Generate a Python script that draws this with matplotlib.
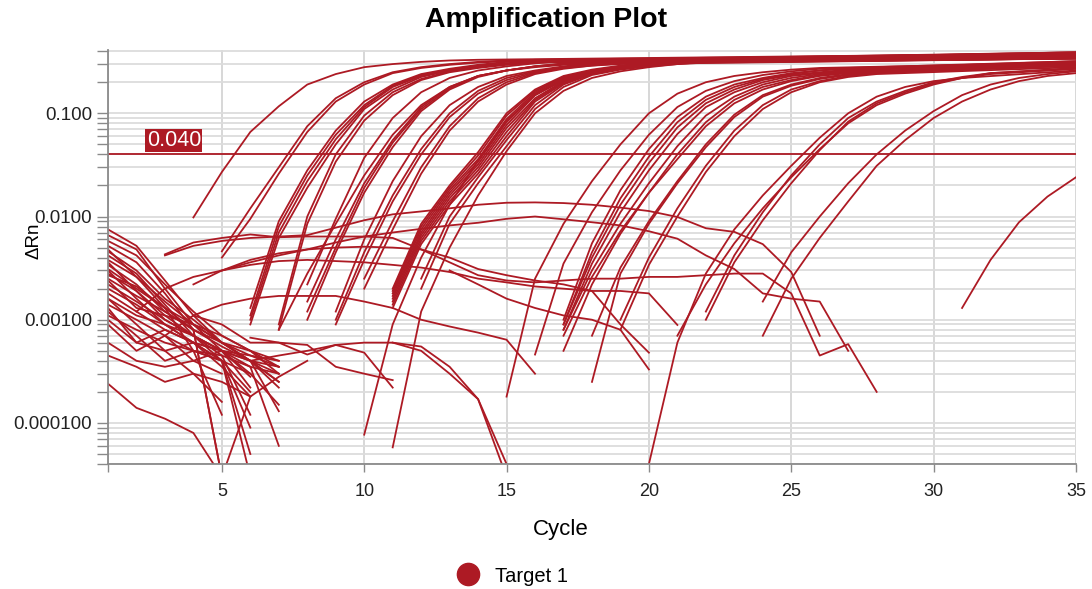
import matplotlib.pyplot as plt
from matplotlib.lines import Line2D
from matplotlib.ticker import LogLocator, NullFormatter, FixedLocator

plt.rcParams["font.family"] = ["Liberation Sans", "DejaVu Sans"]

RED = "#ad1a24"
THRESHOLD = 0.040

x_ticks = [1, 5, 10, 15, 20, 25, 30, 35]
x_labels = ["", "5", "10", "15", "20", "25", "30", "35"]
y_ticks = [1e-4, 1e-3, 1e-2, 1e-1]
y_labels = ["0.000100", "0.00100", "0.0100", "0.100"]

# amplified wells: (first cycle, dRn per cycle, dRn at cycle 35 or None)
amp_curves = [
    (4, [0.0098, 0.027, 0.066, 0.117, 0.19, 0.24, 0.28, 0.30, 0.315, 0.325, 0.33], 0.38),
    (5, [0.0046, 0.012, 0.030, 0.075, 0.14, 0.20, 0.25, 0.28, 0.30, 0.315, 0.325], 0.37),
    (5, [0.0040, 0.0095, 0.026, 0.066, 0.13, 0.19, 0.245, 0.275, 0.295, 0.31, 0.32], 0.35),
    (6, [0.0013, 0.0090, 0.028, 0.068, 0.13, 0.19, 0.24, 0.27, 0.295, 0.315, 0.33], 0.38),
    (6, [0.0011, 0.0080, 0.025, 0.062, 0.12, 0.185, 0.235, 0.265, 0.29, 0.305, 0.315], 0.36),
    (6, [0.0010, 0.0070, 0.022, 0.056, 0.115, 0.18, 0.23, 0.26, 0.285, 0.305, 0.32], 0.39),
    (6, [0.0009, 0.0062, 0.019, 0.050, 0.11, 0.17, 0.225, 0.26, 0.28, 0.30, 0.31], 0.35),
    (7, [0.0009, 0.010, 0.040, 0.095, 0.16, 0.215, 0.255, 0.28, 0.30, 0.315, 0.325], 0.37),
    (7, [0.0008, 0.0085, 0.034, 0.085, 0.15, 0.21, 0.25, 0.275, 0.295, 0.31, 0.32], 0.36),
    (7, [0.0008, 0.0028, 0.0085, 0.025, 0.062, 0.12, 0.18, 0.23, 0.26, 0.285, 0.30, 0.315], 0.37),
    (8, [0.0022, 0.0095, 0.037, 0.09, 0.16, 0.22, 0.26, 0.285, 0.305, 0.32, 0.33], 0.38),
    (8, [0.0015, 0.006, 0.021, 0.055, 0.115, 0.18, 0.23, 0.26, 0.285, 0.30, 0.31], 0.35),
    (8, [0.0012, 0.005, 0.019, 0.052, 0.11, 0.175, 0.23, 0.26, 0.285, 0.305, 0.32], 0.38),
    (8, [0.0010, 0.0045, 0.017, 0.047, 0.105, 0.17, 0.225, 0.26, 0.28, 0.295, 0.305], 0.34),
    (9, [0.0012, 0.006, 0.022, 0.060, 0.12, 0.18, 0.23, 0.26, 0.285, 0.305, 0.32], 0.37),
    (9, [0.0010, 0.0045, 0.016, 0.045, 0.10, 0.165, 0.22, 0.255, 0.28, 0.30, 0.31], 0.36),
    (9, [0.0009, 0.0038, 0.014, 0.040, 0.092, 0.155, 0.21, 0.25, 0.275, 0.29, 0.30], 0.34),
    (10, [0.0025, 0.009, 0.030, 0.075, 0.14, 0.20, 0.245, 0.275, 0.30, 0.315, 0.325], 0.37),
    (10, [0.0020, 0.0075, 0.026, 0.068, 0.13, 0.19, 0.24, 0.27, 0.29, 0.305, 0.315], 0.35),
    (10, [0.000077, 0.0009, 0.004, 0.013, 0.035, 0.085, 0.15, 0.21, 0.25, 0.275, 0.295, 0.31], 0.34),
    (11, [0.000058, 0.0012, 0.005, 0.016, 0.043, 0.10, 0.165, 0.22, 0.255, 0.28, 0.30, 0.315], 0.35),
    (11, [0.0020, 0.0085, 0.020, 0.042, 0.10, 0.17, 0.23, 0.265, 0.29, 0.31, 0.325, 0.335], 0.39),
    (11, [0.0019, 0.0080, 0.019, 0.039, 0.095, 0.165, 0.225, 0.26, 0.285, 0.30, 0.315, 0.325], 0.36),
    (11, [0.0018, 0.0075, 0.018, 0.036, 0.088, 0.16, 0.22, 0.26, 0.285, 0.305, 0.32, 0.33], 0.39),
    (11, [0.0017, 0.0070, 0.017, 0.034, 0.082, 0.155, 0.215, 0.255, 0.28, 0.30, 0.31, 0.32], 0.35),
    (11, [0.0016, 0.0066, 0.016, 0.032, 0.077, 0.15, 0.21, 0.25, 0.28, 0.30, 0.315, 0.325], 0.37),
    (11, [0.0015, 0.0062, 0.015, 0.030, 0.072, 0.14, 0.205, 0.25, 0.275, 0.295, 0.305, 0.315], 0.34),
    (11, [0.0014, 0.0058, 0.014, 0.028, 0.066, 0.135, 0.20, 0.245, 0.275, 0.295, 0.31, 0.32], 0.36),
    (11, [0.0013, 0.0054, 0.013, 0.026, 0.060, 0.13, 0.195, 0.24, 0.27, 0.29, 0.305, 0.315], 0.35),
    (12, [0.0025, 0.010, 0.024, 0.055, 0.12, 0.19, 0.24, 0.27, 0.295, 0.31, 0.32], 0.37),
    (12, [0.0020, 0.0085, 0.021, 0.048, 0.11, 0.18, 0.235, 0.265, 0.285, 0.30, 0.31], 0.34),
    (15, [0.00018, 0.0025, 0.0085, 0.022, 0.050, 0.10, 0.155, 0.20, 0.23, 0.25, 0.265, 0.275], 0.31),
    (16, [0.00046, 0.0035, 0.011, 0.028, 0.062, 0.115, 0.165, 0.205, 0.235, 0.255, 0.27], 0.30),
    (17, [0.0010, 0.0055, 0.018, 0.045, 0.092, 0.145, 0.19, 0.22, 0.245, 0.26, 0.275], 0.32),
    (17, [0.0009, 0.0045, 0.015, 0.038, 0.082, 0.135, 0.18, 0.215, 0.24, 0.26, 0.27], 0.32),
    (17, [0.0009, 0.0040, 0.013, 0.033, 0.073, 0.125, 0.17, 0.21, 0.235, 0.25, 0.265], 0.30),
    (17, [0.0008, 0.0035, 0.011, 0.028, 0.063, 0.115, 0.16, 0.20, 0.23, 0.245, 0.26], 0.31),
    (17, [0.0008, 0.0030, 0.0085, 0.021, 0.048, 0.095, 0.145, 0.19, 0.22, 0.24, 0.255], 0.29),
    (17, [0.0007, 0.0026, 0.0072, 0.017, 0.040, 0.082, 0.135, 0.18, 0.21, 0.235, 0.25], 0.30),
    (18, [0.00025, 0.0028, 0.0085, 0.021, 0.047, 0.092, 0.145, 0.185, 0.215, 0.235, 0.25], 0.29),
    (18, [0.0007, 0.0032, 0.009, 0.022, 0.050, 0.097, 0.15, 0.19, 0.22, 0.24, 0.255], 0.31),
    (17, [0.0005, 0.0022, 0.0068, 0.017, 0.036, 0.075, 0.125, 0.17, 0.205, 0.23, 0.245], 0.29),
    (19, [0.0010, 0.0040, 0.012, 0.031, 0.068, 0.12, 0.17, 0.205, 0.23, 0.245], 0.29),
    (19, [0.0008, 0.0034, 0.010, 0.027, 0.060, 0.11, 0.16, 0.20, 0.225, 0.24], 0.28),
    (20, [0.00004, 0.0006, 0.0028, 0.0075, 0.016, 0.031, 0.058, 0.10, 0.145, 0.18, 0.205, 0.22], 0.26),
    (21, [0.0007, 0.0022, 0.0055, 0.012, 0.024, 0.045, 0.08, 0.12, 0.155, 0.19, 0.22, 0.245], 0.27),
    (22, [0.0012, 0.0042, 0.011, 0.025, 0.050, 0.09, 0.13, 0.165, 0.20, 0.225, 0.245], 0.275),
    (22, [0.0010, 0.0036, 0.0092, 0.021, 0.044, 0.083, 0.125, 0.16, 0.195, 0.22, 0.24], 0.27),
    (24, [0.0015, 0.0045, 0.010, 0.021, 0.040, 0.068, 0.105, 0.15, 0.19, 0.22, 0.24, 0.255], None),
    (24, [0.0007, 0.0025, 0.0062, 0.014, 0.031, 0.055, 0.09, 0.13, 0.17, 0.205, 0.23, 0.245], None),
    (31, [0.0013, 0.0038, 0.0088, 0.0156, 0.024], None),
]

# early baseline noise, every well from cycle 1
early_noise = [
    [0.0075, 0.0052, 0.0024, 0.0011, 0.0006, 0.0004, 0.00035],
    [0.0066, 0.0048, 0.0020, 0.0009, 0.0005, 0.00028],
    [0.0058, 0.0042, 0.0022, 0.0012, 0.0007, 0.0005, 0.0003],
    [0.0052, 0.0036, 0.0018, 0.0008, 0.00003],
    [0.0046, 0.0030, 0.0016, 0.0010, 0.0006, 0.0004, 0.00022],
    [0.0042, 0.0028, 0.0014, 0.0007, 0.00045, 0.00012],
    [0.0038, 0.0026, 0.0015, 0.0009, 0.0007, 0.0005, 0.0004],
    [0.0034, 0.0022, 0.0012, 0.0008, 0.00003],
    [0.0031, 0.0020, 0.0013, 0.0009, 0.0006, 0.00045, 0.00035],
    [0.0028, 0.0019, 0.0011, 0.0007, 0.0005, 0.00022],
    [0.0025, 0.0017, 0.0012, 0.0008, 0.00055, 0.0004, 0.0003],
    [0.0022, 0.0015, 0.0010, 0.0007, 0.0004, 0.00003],
    [0.0020, 0.0014, 0.0009, 0.0006, 0.0005, 0.00045, 0.0004],
    [0.0018, 0.0012, 0.0008, 0.0006, 0.00035, 0.00018],
    [0.0016, 0.0011, 0.0009, 0.0007, 0.0005, 0.0003, 0.00015],
    [0.0014, 0.0010, 0.0007, 0.0005, 0.0004, 0.0003],
    [0.0013, 0.0006, 0.0008, 0.0006, 0.0005, 0.0004, 0.00025],
    [0.0012, 0.0007, 0.0004, 0.0005, 0.0004, 0.00005],
    [0.0011, 0.0008, 0.0006, 0.0005, 0.00045, 0.00035, 0.0003],
    [0.0010, 0.0006, 0.0005, 0.0006, 0.0004, 0.0002],
    [0.0009, 0.0005, 0.0007, 0.0004, 0.0003],
    [0.0006, 0.0004, 0.00035, 0.0004, 0.0005, 0.0004, 0.00025],
    [0.00045, 0.00035, 0.00025, 0.0003, 0.00025, 0.00018],
    [0.00024, 0.00014, 0.00011, 0.00008, 0.00003],
    [0.0016, 0.0009, 0.0005, 0.0003, 0.00016],
    [0.0027, 0.0021, 0.0013, 0.0005, 0.00012],
    [0.0048, 0.0026, 0.0013, 0.0008, 0.0006, 0.0004, 0.00013],
    [0.0036, 0.0019, 0.0010, 0.0007, 0.0005, 0.00035, 0.00006],
    [0.0024, 0.0013, 0.0011, 0.0009, 0.0006, 0.0005, 0.00035],
    [0.0030, 0.0016, 0.0009, 0.0006, 0.0004, 0.00009],
]

# non-amplified wells drifting across the run: (first cycle, dRn per cycle)
drift_curves = [
    (3, [0.0042, 0.0052, 0.0058, 0.0062, 0.0064, 0.0066, 0.0078, 0.0092, 0.0105, 0.0112,
         0.0120, 0.0130, 0.0136, 0.0137, 0.0135, 0.0130, 0.0122, 0.0113, 0.0099, 0.0077,
         0.0071, 0.0054, 0.0029, 0.0007]),
    (3, [0.0043, 0.0056, 0.0062, 0.0067, 0.0063, 0.0064, 0.0064, 0.0064, 0.0062, 0.0048,
         0.0036, 0.0027, 0.0024, 0.0023, 0.0024, 0.0025, 0.0025, 0.0026, 0.0026, 0.0027,
         0.0028, 0.0028, 0.0018, 0.00045, 0.00058, 0.0002]),
    (2, [0.0012, 0.0020, 0.0026, 0.0030, 0.0036, 0.0042, 0.0048, 0.0056, 0.0064, 0.0070,
         0.0076, 0.0082, 0.0087, 0.0095, 0.0100, 0.0094, 0.0088, 0.0082, 0.0072, 0.0061,
         0.0042, 0.0031, 0.0018, 0.0016, 0.0015, 0.0005]),
    (4, [0.0022, 0.0030, 0.0034, 0.0037, 0.0038, 0.0037, 0.0036, 0.0034, 0.0032, 0.0029,
         0.0025, 0.0023, 0.0021, 0.0020, 0.0019, 0.0019, 0.0018, 0.00089]),
    (5, [0.0030, 0.0038, 0.0044, 0.0048, 0.0050, 0.0051, 0.0050, 0.0048, 0.0040, 0.0031,
         0.0027, 0.0024, 0.0022, 0.0019, 0.0009, 0.00048]),
    (3, [0.0007, 0.0011, 0.0014, 0.0016, 0.0017, 0.0017, 0.0017, 0.0015, 0.0013, 0.0010,
         0.00086, 0.00075, 0.00064, 0.0003]),
    (6, [0.0004, 0.00045, 0.0005, 0.00057, 0.0006, 0.0006, 0.0005, 0.0003, 0.00017, 0.00004]),
    (11, [0.0006, 0.00055, 0.00035, 0.00017, 0.00003]),
    (4, [0.0011, 0.0009, 0.0006, 0.0006, 0.00046, 0.00057, 0.00048, 0.00022]),
    (6, [0.00067, 0.0006, 0.00057, 0.00035, 0.0003, 0.00026]),
    (13, [0.0030, 0.0022, 0.0016, 0.0013, 0.0011, 0.0010, 0.0008, 0.00033]),
    (5, [0.00003, 0.00018, 0.00028, 0.0004]),
]

fig = plt.figure(figsize=(10.92, 5.89), dpi=100)
ax = fig.add_axes([0.0989, 0.2122, 0.8864, 0.7028])

line_kw = dict(color=RED, lw=1.3, solid_joinstyle="round")

for vals in early_noise:
    ax.plot(range(1, len(vals) + 1), vals, **line_kw)

for start, vals in drift_curves:
    ax.plot(range(start, start + len(vals)), vals, **line_kw)

for start, vals, end in amp_curves:
    xs = list(range(start, start + len(vals)))
    ys = list(vals)
    if end is not None:
        xs.append(35)
        ys.append(end)
    ax.plot(xs, ys, **line_kw)

ax.axhline(THRESHOLD, color=RED, lw=1.3)
ax.annotate("0.040", xy=(2.36, THRESHOLD), xytext=(0, 2.5), textcoords="offset points",
            color="white", fontsize=15.5, ha="left", va="bottom",
            bbox=dict(boxstyle="square,pad=0.06", fc=RED, ec="none"))

ax.set_yscale("log")
ax.set_xlim(1, 35)
ax.set_ylim(4.0e-5, 0.41)

ax.xaxis.set_major_locator(FixedLocator(x_ticks))
ax.set_xticklabels(x_labels)
ax.yaxis.set_major_locator(FixedLocator(y_ticks))
ax.set_yticklabels(y_labels)
ax.yaxis.set_minor_locator(LogLocator(base=10, subs=range(2, 10), numticks=20))
ax.yaxis.set_minor_formatter(NullFormatter())

ax.set_axisbelow(True)
ax.grid(which="both", axis="y", color="#dcdcdc", lw=1.3)
ax.grid(which="major", axis="x", color="#d4d4d4", lw=1.3)

for side in ("top", "right"):
    ax.spines[side].set_visible(False)
for side in ("left", "bottom"):
    ax.spines[side].set_color("#8a8a8a")
    ax.spines[side].set_linewidth(1.3)

ax.tick_params(axis="y", which="both", length=8, width=1, color="#8a8a8a",
               labelsize=13.5, labelcolor="#222222")
ax.tick_params(axis="x", length=6, width=1, color="#8a8a8a", labelsize=13,
               labelcolor="#222222", pad=8)

fig.text(0.5, 1 - 20 / 589, "Amplification Plot", ha="center", va="center",
         fontsize=20.5, fontweight="bold")
fig.text(34 / 1092, 1 - 241 / 589, "ΔRn", rotation=90, ha="center", va="center",
         fontsize=13.5)
fig.text(561 / 1092, 1 - 530 / 589, "Cycle", ha="center", va="center", fontsize=16)

handle = Line2D([0], [0], marker="o", linestyle="", color=RED, markersize=16)
fig.legend([handle], ["Target 1"], loc="center", bbox_to_anchor=(508 / 1092, 1 - 576 / 589),
           frameon=False, fontsize=14.5, handletextpad=0.3)

fig.savefig("out.png", dpi=100)
